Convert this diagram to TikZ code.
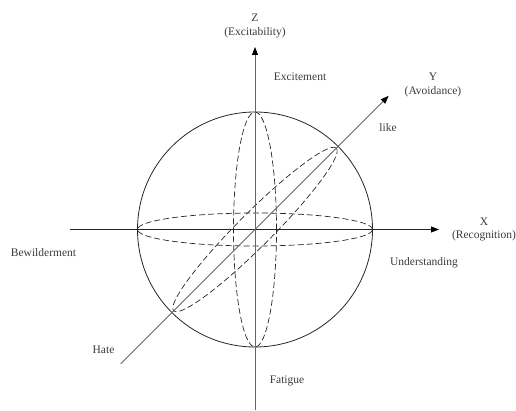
\documentclass[tikz,border=0pt]{standalone}
\usepackage{fontspec}
\setmainfont{Liberation Serif}
\usetikzlibrary{arrows.meta,calc}
\definecolor{txt}{HTML}{3A3A3A}
\begin{document}
\begin{tikzpicture}[x=1pt,y=1pt,
  lbl/.style={text=txt,font=\fontsize{11.5}{13}\selectfont,inner sep=0pt,align=center},
  axis/.style={line width=0.9pt,-{Triangle[length=8pt,width=6pt,color=black]}},
  dsh/.style={draw=black!85,line width=0.7pt,dash pattern=on 6pt off 3pt},
  sph/.style={draw=black!85,line width=0.8pt}]
\useasboundingbox (0,0) rectangle (516,410);
\coordinate (O) at (255,180.5);
% axes end points
\coordinate (Zs) at (255,0);
\coordinate (Ze) at (255,363);
\coordinate (Xs) at (70,180.5);
\coordinate (Xe) at (439,180.5);
\coordinate (Ys) at ($(O)+(225:190)$);
\coordinate (Ye) at ($(O)+(45:189)$);
% sphere
\draw[sph] (O) circle (117.5);
\draw[dsh] (O) ellipse [x radius=21.5, y radius=117.5];
\draw[dsh] (O) ellipse [x radius=117.5, y radius=16.5];
\draw[dsh,rotate around={45:(O)}] (O) ellipse [x radius=115, y radius=17];
% axes
\draw[axis,draw=black!60] (Zs) -- (Ze);
\draw[axis,draw=black!85] (Xs) -- (Xe);
\draw[axis,draw=black!60,line width=0.8pt] (Ys) -- (Ye);
% labels
\node[lbl] (zl) at (255,392) {Z};
\node[lbl] (zn) at (255,377.5) {(Excitability)};
\node[lbl] (exc) at (300,333.5) {Excitement};
\node[lbl] (yl) at (433,333) {Y};
\node[lbl] (yn) at (433,318) {(Avoidance)};
\node[lbl] (like) at (388,282) {like};
\node[lbl] (xl) at (484,188) {X};
\node[lbl] (xn) at (484,174) {(Recognition)};
\node[lbl] (und) at (424,147) {Understanding};
\node[lbl] (bew) at (43.5,157) {Bewilderment};
\node[lbl] (hate) at (103.5,60) {Hate};
\node[lbl] (fat) at (287,29) {Fatigue};
\end{tikzpicture}
\end{document}
